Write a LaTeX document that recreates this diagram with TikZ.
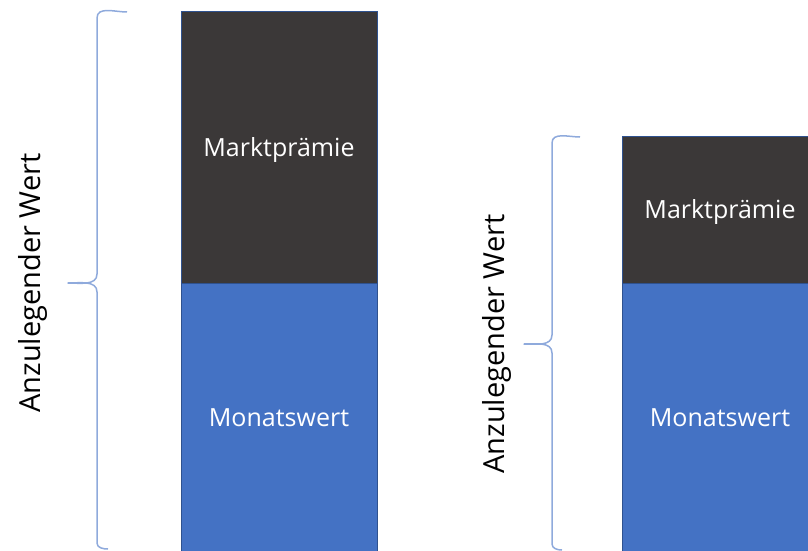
\documentclass[tikz,border=0pt]{standalone}
\usepackage{fontspec}
\setmainfont{Open Sans}
\definecolor{premiumgray}{HTML}{3B3838}
\definecolor{valueblue}{HTML}{4472C4}
\definecolor{edgeblue}{HTML}{2F528F}
\definecolor{bracecol}{HTML}{8FAADC}
\tikzstyle{bar}=[draw=edgeblue,line width=0.8pt,minimum width=196pt,text=white,
    font=\fontsize{25}{30}\selectfont,inner sep=0pt,text height=24pt,text depth=6pt]
\tikzstyle{premium}=[bar,fill=premiumgray]
\tikzstyle{monthly}=[bar,fill=valueblue]
\tikzstyle{brace}=[draw=bracecol,line width=1.5pt,line join=round]
\tikzstyle{bracelabel}=[rotate=90,font=\fontsize{29}{34}\selectfont]
\begin{document}
\begin{tikzpicture}[x=1pt,y=-1pt]
    \useasboundingbox (0,0) rectangle (808,551);

    % linke Saeule
    \node[premium,minimum height=272pt] (prem1) at (279,147) {Marktprämie};
    \node[monthly,minimum height=268pt] (month1) at (279,417) {Monatswert};

    % rechte Saeule
    \node[premium,minimum height=147pt] (prem2) at (720,209.5) {Marktprämie};
    \node[monthly,minimum height=268pt] (month2) at (720,417) {Monatswert};

    % Klammern
    \coordinate (tip1) at (68,283);
    \coordinate (tip2) at (524,344);
    \path[brace] (127,12) to[out=180,in=90] (97,18)
                          to (97,274)
                          to[out=270,in=0] (tip1)
                          to[out=0,in=90] (97,292)
                          to (97,543)
                          to[out=270,in=180] (108,549);
    \path[brace] (580,137) to[out=180,in=90] (552,143)
                           to (552,335)
                           to[out=270,in=0] (tip2)
                           to[out=0,in=90] (552,353)
                           to (552,544)
                           to[out=270,in=180] (562,550);

    \node[bracelabel] (lab1) at (33,283) {Anzulegender Wert};
    \node[bracelabel] (lab2) at (497,344) {Anzulegender Wert};
\end{tikzpicture}
\end{document}
